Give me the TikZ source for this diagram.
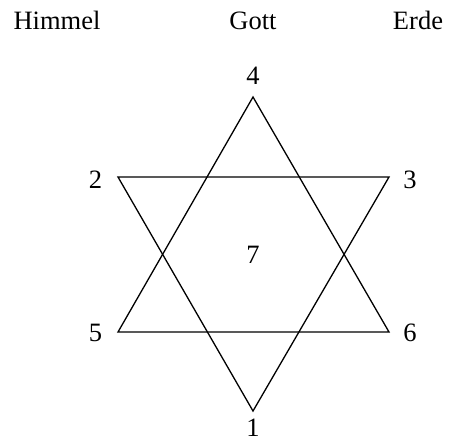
\documentclass[tikz,border=0pt]{standalone}
\usepackage{fontspec}
\setmainfont{Liberation Serif}
\begin{document}
\begin{tikzpicture}[x=1pt,y=-1pt,
  lbl/.style={anchor=base, inner sep=0pt, font=\fontsize{26.5}{31}\selectfont},
  edge/.style={line width=1.3pt, line join=miter}]
\useasboundingbox (0,0) rectangle (457,440);
\coordinate (v4) at (253,97);
\coordinate (v5) at (118,332);
\coordinate (v6) at (389,332);
\coordinate (v1) at (253,411);
\coordinate (v2) at (118,177);
\coordinate (v3) at (389,177);
\draw[edge] (v4) -- (v5) -- (v6) -- cycle;
\draw[edge] (v1) -- (v2) -- (v3) -- cycle;
\node[lbl] (himmel) at (57,29) {Himmel};
\node[lbl] (gott) at (253,29) {Gott};
\node[lbl] (erde) at (418,29) {Erde};
\node[lbl] (n4) at (253,84) {4};
\node[lbl] (n2) at (95.5,188) {2};
\node[lbl] (n3) at (410,188) {3};
\node[lbl] (n7) at (253,263) {7};
\node[lbl] (n5) at (95.5,341) {5};
\node[lbl] (n6) at (410,341) {6};
\node[lbl] (n1) at (253,436.5) {1};
\end{tikzpicture}
\end{document}
